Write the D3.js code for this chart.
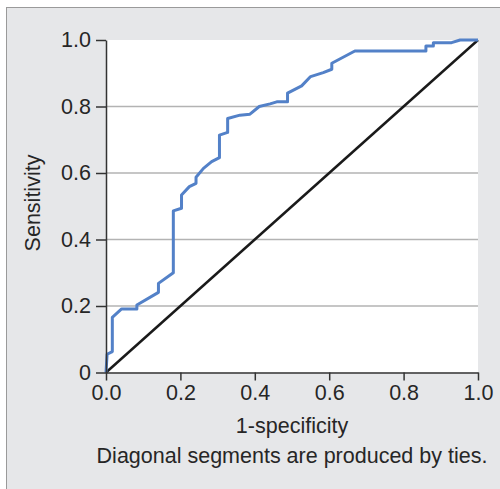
<!DOCTYPE html>
<html>
<head>
<meta charset="utf-8">
<script src="https://cdn.jsdelivr.net/npm/d3@7"></script>
<style>
  body { margin: 0; background: #fff; }
  text { font-family: "Liberation Sans", Arial, sans-serif; fill: #262626; }
</style>
</head>
<body>
<div id="chart"></div>
<script>
// Data
const fpr = [0, 0.003, 0.017, 0.017, 0.042, 0.083, 0.083, 0.141, 0.141, 0.181,
  0.181, 0.203, 0.203, 0.224, 0.242, 0.242, 0.262, 0.284, 0.305, 0.305,
  0.327, 0.327, 0.360, 0.387, 0.412, 0.441, 0.459, 0.488, 0.488, 0.526,
  0.550, 0.584, 0.607, 0.607, 0.669, 0.860, 0.860, 0.880, 0.880, 0.929,
  0.952, 1.0];
const tpr = [0, 0.055, 0.063, 0.166, 0.191, 0.191, 0.203, 0.241, 0.268, 0.300,
  0.486, 0.494, 0.534, 0.559, 0.569, 0.587, 0.614, 0.634, 0.646, 0.714,
  0.722, 0.764, 0.774, 0.777, 0.800, 0.808, 0.814, 0.814, 0.840, 0.862,
  0.890, 0.902, 0.912, 0.930, 0.967, 0.967, 0.982, 0.982, 0.992, 0.992,
  1.0, 1.0];
const refLine = [0, 1];
const xTicks = [0, 0.2, 0.4, 0.6, 0.8, 1.0];
const xTickLabels = ["0.0", "0.2", "0.4", "0.6", "0.8", "1.0"];
const yTicks = [0, 0.2, 0.4, 0.6, 0.8, 1.0];
const yTickLabels = ["0", "0.2", "0.4", "0.6", "0.8", "1.0"];
const gridTicks = [0.2, 0.4, 0.6, 0.8];

// Dimensions
const dimensions = {
  width: 500,
  height: 489,
  left: 106,
  right: 22,
  top: 40,
  bottom: 116.5,
};
dimensions.ctrWidth = dimensions.width - dimensions.left - dimensions.right;
dimensions.ctrHeight = dimensions.height - dimensions.top - dimensions.bottom;

const svg = d3.select("#chart")
  .append("svg")
  .attr("width", dimensions.width)
  .attr("height", dimensions.height);

// Grey panel
svg.append("rect")
  .attr("x", 6.5)
  .attr("y", 7.5)
  .attr("width", 520)
  .attr("height", 520)
  .attr("fill", "#e6e7e9")
  .attr("stroke", "#9a9a9a")
  .attr("stroke-width", 1);

const ctr = svg.append("g")
  .attr("transform", `translate(${dimensions.left}, ${dimensions.top})`);

// Scales
const xScale = d3.scaleLinear().domain([0, 1]).range([0, dimensions.ctrWidth]);
const yScale = d3.scaleLinear().domain([0, 1]).range([dimensions.ctrHeight, 0]);

ctr.append("rect")
  .attr("width", dimensions.ctrWidth)
  .attr("height", dimensions.ctrHeight)
  .attr("fill", "#fff");

// Gridlines
ctr.append("g")
  .selectAll("line")
  .data(gridTicks)
  .join("line")
  .attr("x1", 0)
  .attr("x2", dimensions.ctrWidth)
  .attr("y1", (d) => yScale(d))
  .attr("y2", (d) => yScale(d))
  .attr("stroke", "#b3b3b3")
  .attr("stroke-width", 1.5);

// Reference diagonal
const line = d3.line()
  .x((d) => xScale(d[0]))
  .y((d) => yScale(d[1]));

ctr.append("path")
  .datum(refLine.map((v) => [v, v]))
  .attr("d", line)
  .attr("fill", "none")
  .attr("stroke", "#1a1a1a")
  .attr("stroke-width", 2.5);

// ROC curve
ctr.append("path")
  .datum(fpr.map((x, i) => [x, tpr[i]]))
  .attr("d", line)
  .attr("fill", "none")
  .attr("stroke", "#5381c8")
  .attr("stroke-width", 3)
  .attr("stroke-linejoin", "round");

// Axes
const xAxis = d3.axisBottom(xScale)
  .tickValues(xTicks)
  .tickFormat((d, i) => xTickLabels[i])
  .tickSize(8)
  .tickSizeOuter(0)
  .tickPadding(4);

const yAxis = d3.axisLeft(yScale)
  .tickValues(yTicks)
  .tickFormat((d, i) => yTickLabels[i])
  .tickSize(10)
  .tickSizeOuter(0)
  .tickPadding(5);

const xAxisGroup = ctr.append("g")
  .attr("transform", `translate(0, ${dimensions.ctrHeight})`)
  .call(xAxis);

const yAxisGroup = ctr.append("g").call(yAxis);

[xAxisGroup, yAxisGroup].forEach((g) => {
  g.select(".domain").attr("stroke", "#333").attr("stroke-width", 1.5);
  g.selectAll(".tick line").attr("stroke", "#333").attr("stroke-width", 1.5);
  g.selectAll(".tick text")
    .attr("fill", "#262626")
    .style("font-size", "21.5px")
    .style("font-family", "'Liberation Sans', Arial, sans-serif");
});

// Labels
svg.append("text")
  .attr("x", dimensions.left + dimensions.ctrWidth / 2)
  .attr("y", 433)
  .attr("text-anchor", "middle")
  .style("font-size", "21.5px")
  .text("1-specificity");

svg.append("text")
  .attr("x", dimensions.left + dimensions.ctrWidth / 2)
  .attr("y", 463)
  .attr("text-anchor", "middle")
  .style("font-size", "21.5px")
  .text("Diagonal segments are produced by ties.");

svg.append("text")
  .attr("transform", "translate(40, 203) rotate(-90)")
  .attr("text-anchor", "middle")
  .style("font-size", "21.5px")
  .text("Sensitivity");
</script>
</body>
</html>
